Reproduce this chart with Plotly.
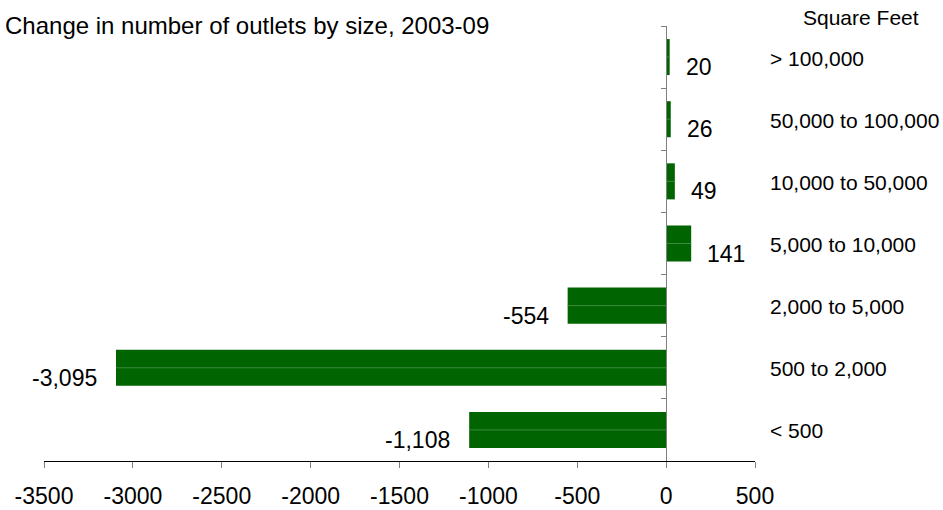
import plotly.graph_objects as go

# Data (top to bottom as shown)
categories = ["> 100,000", "50,000 to 100,000", "10,000 to 50,000", "5,000 to 10,000",
              "2,000 to 5,000", "500 to 2,000", "< 500"]
changes = [20, 26, 49, 141, -554, -3095, -1108]
value_labels = ["20", "26", "49", "141", "-554", "-3,095", "-1,108"]
tick_values = [-3500, -3000, -2500, -2000, -1500, -1000, -500, 0, 500]
tick_labels = ["-3500", "-3000", "-2500", "-2000", "-1500", "-1000", "-500", "0", "500"]

FONT = "Liberation Sans, Arial, sans-serif"
BAR = "#006400"

fig = go.Figure()
fig.add_trace(go.Bar(
    x=changes, y=categories, orientation="h",
    marker=dict(color=BAR, line=dict(width=0)),
    width=0.58, hoverinfo="skip", showlegend=False,
))

# subtle lighter centre line through each bar
lx, ly = [], []
for c, v in zip(categories, changes):
    lx += [0, v, None]
    ly += [c, c, None]
fig.add_trace(go.Scatter(x=lx, y=ly, mode="lines",
                         line=dict(color="#3d8a3d", width=1),
                         hoverinfo="skip", showlegend=False))

annotations = []
for c, v, t in zip(categories, changes, value_labels):
    annotations.append(dict(
        x=v, y=c, xref="x", yref="y", text=t, showarrow=False,
        xanchor="left" if v >= 0 else "right", yanchor="middle",
        xshift=14 if v >= 0 else -17, yshift=-10,
        font=dict(family=FONT, size=23, color="#000000"),
    ))
    annotations.append(dict(
        x=500, y=c, xref="x", yref="y", text=c, showarrow=False,
        xanchor="left", yanchor="middle", xshift=13, yshift=-1,
        font=dict(family=FONT, size=21, color="#000000"),
    ))

annotations.append(dict(
    x=500, y=1, xref="x", yref="paper", text="Square Feet", showarrow=False,
    xanchor="center", yanchor="middle", xshift=106, yshift=9,
    font=dict(family=FONT, size=21, color="#000000"),
))
annotations.append(dict(
    x=0, y=1, xref="paper", yref="paper",
    text="Change in number of outlets by size, 2003-09", showarrow=False,
    xanchor="left", yanchor="middle", xshift=-41, yshift=1,
    font=dict(family=FONT, size=24, color="#000000"),
))

fig.update_layout(
    width=943, height=510,
    margin=dict(l=44, r=188, t=26, b=49, autoexpand=False),
    paper_bgcolor="white", plot_bgcolor="white",
    font=dict(family=FONT, color="#000000"),
    annotations=annotations,
    xaxis=dict(
        range=[-3500, 500], tickvals=tick_values, ticktext=tick_labels,
        showgrid=False, zeroline=False, automargin=False,
        showline=True, linecolor="#000000", linewidth=1,
        ticks="outside", ticklen=6, tickcolor="#808080", tickwidth=1,
        ticklabelstandoff=8,
        tickfont=dict(family=FONT, size=23, color="#000000"),
        fixedrange=True,
    ),
    yaxis=dict(
        categoryorder="array", categoryarray=categories,
        autorange="reversed", automargin=False,
        anchor="free", position=0.875,
        showgrid=False, zeroline=False,
        showline=True, linecolor="#808080", linewidth=1,
        ticks="outside", tickson="boundaries", ticklen=5,
        tickcolor="#808080", tickwidth=1,
        showticklabels=False, fixedrange=True,
    ),
)

fig.write_html("out.html")
